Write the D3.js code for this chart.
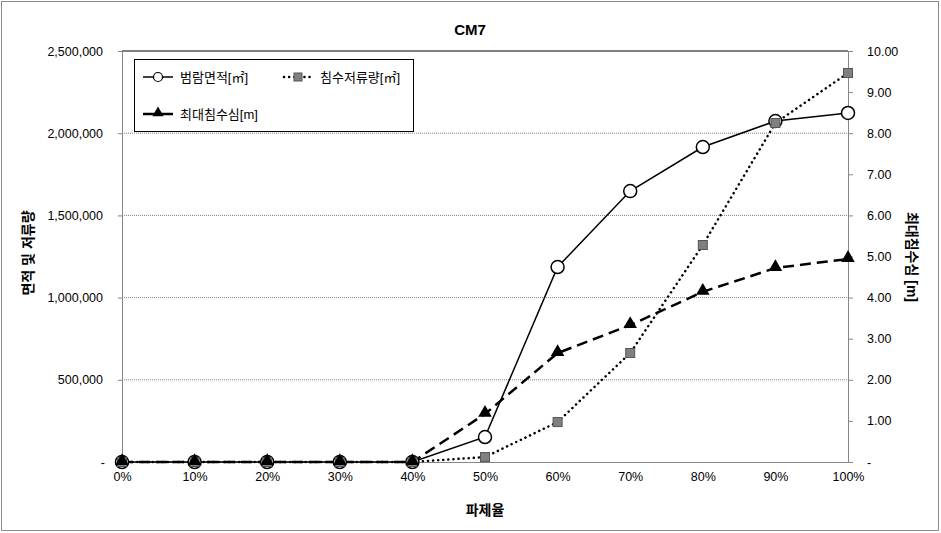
<!DOCTYPE html>
<html><head><meta charset="utf-8">
<script src="https://cdn.jsdelivr.net/npm/d3@7"></script>
<style>body{margin:0;background:#fff}svg{display:block}text{font-family:"Liberation Sans","Noto Sans CJK KR",Arial,sans-serif}</style>
</head><body><svg id="c" width="941" height="533"></svg>
<script>
const categories = ["0%","10%","20%","30%","40%","50%","60%","70%","80%","90%","100%"];
const floodArea = [0,0,0,0,0,152000,1186000,1648000,1916000,2074000,2123000];
const storage = [0,0,0,0,0,30000,243000,663000,1320000,2062000,2366000];
const maxDepth = [0,0,0,0,0,1.17,2.65,3.33,4.14,4.72,4.94];
const leftTicks = [0,500000,1000000,1500000,2000000,2500000];
const rightTicks = [0,1,2,3,4,5,6,7,8,9,10];
const seriesNames = ["범람면적[㎡]","침수저류량[㎡]","최대침수심[m]"];

const svg = d3.select("#c");
const L=122,R=848,T=51,B=462;
svg.append("rect").attr("x",1.5).attr("y",1.5).attr("width",937).attr("height",529).attr("fill","#fff").attr("stroke","#8c8c8c");

const x = d3.scalePoint().domain(categories).range([L,R]);
const yL = d3.scaleLinear().domain([0,2500000]).range([B,T]);
const yR = d3.scaleLinear().domain([0,10]).range([B,T]);

svg.append("g").selectAll("line").data(leftTicks.slice(1,-1)).join("line")
 .attr("x1",L).attr("x2",R).attr("y1",d=>yL(d)).attr("y2",d=>yL(d))
 .attr("stroke","#808080").attr("stroke-dasharray","1,1");
svg.append("line").attr("x1",L).attr("x2",R).attr("y1",T).attr("y2",T).attr("stroke","#000");

const fmt = d=> d===0?"-":d3.format(",")(d);
const gl = svg.append("g").attr("transform",`translate(${L},0)`)
 .call(d3.axisLeft(yL).tickValues(leftTicks).tickFormat(fmt).tickSize(4).tickPadding(15));
const gr = svg.append("g").attr("transform",`translate(${R},0)`)
 .call(d3.axisRight(yR).tickValues(rightTicks).tickFormat(d=>d===0?"-":d3.format(".2f")(d)).tickSize(5).tickPadding(14));
const gx = svg.append("g").attr("transform",`translate(0,${B})`)
 .call(d3.axisBottom(x).tickSize(0).tickPadding(10));
[gl,gr,gx].forEach(g=>{
  g.selectAll(".domain").attr("stroke","#868686");
  g.selectAll(".tick line").attr("stroke","#868686");
  g.selectAll("text").attr("font-size",12.5).attr("fill","#000");
});
gl.select(".tick text").attr("dx",2);

const line = (yS)=>d3.line().x((d,i)=>x(categories[i])).y(d=>yS(d));
svg.append("path").datum(storage).attr("d",line(yL)).attr("fill","none").attr("stroke","#000").attr("stroke-width",2.5).attr("stroke-dasharray","0.1,5").attr("stroke-linecap","round");
svg.append("path").datum(maxDepth).attr("d",line(yR)).attr("fill","none").attr("stroke","#000").attr("stroke-width",2.5).attr("stroke-dasharray","11,6");
svg.append("path").datum(floodArea).attr("d",line(yL)).attr("fill","none").attr("stroke","#000").attr("stroke-width",1.5);

svg.append("g").selectAll("circle").data(floodArea).join("circle")
 .attr("cx",(d,i)=>x(categories[i])).attr("cy",d=>yL(d)).attr("r",6.5).attr("fill","#fff").attr("stroke","#000").attr("stroke-width",1.5);
svg.append("g").selectAll("rect").data(storage).join("rect")
 .attr("x",(d,i)=>x(categories[i])-4.5).attr("y",d=>yL(d)-4.5).attr("width",9).attr("height",9).attr("fill","#808080").attr("stroke","#555");
const tri = d3.symbol().type(d3.symbolTriangle).size(80);
svg.append("g").selectAll("path").data(maxDepth).join("path")
 .attr("transform",(d,i)=>`translate(${x(categories[i])},${yR(d)-1})`).attr("d",tri).attr("fill","#000");

svg.append("text").attr("x",470).attr("y",35).attr("text-anchor","middle").attr("font-size",15).attr("font-weight","bold").text("CM7");
svg.append("text").attr("transform","translate(33,253) rotate(-90)").attr("text-anchor","middle").attr("font-size",14).attr("font-weight","bold").attr("font-family","Noto Sans CJK KR").text("면적 및 저류량");
svg.append("text").attr("transform","translate(907,257) rotate(90)").attr("text-anchor","middle").attr("font-size",14).attr("font-weight","bold").attr("font-family","Noto Sans CJK KR").text("최대침수심 [m]");
svg.append("text").attr("x",485).attr("y",515).attr("text-anchor","middle").attr("font-size",14).attr("font-weight","bold").attr("font-family","Noto Sans CJK KR").text("파제율");

const lg = svg.append("g");
lg.append("rect").attr("x",134.5).attr("y",59.5).attr("width",279).attr("height",72).attr("fill","#fff").attr("stroke","#000");
const items = [{x:143,y:77,tx:180,t:"c"},{x:284,y:77,tx:320,t:"s"},{x:143,y:114,tx:180,t:"t"}];
items.forEach((it,k)=>{
  const ln = lg.append("line").attr("x1",it.x).attr("x2",it.x+30).attr("y1",it.y).attr("y2",it.y).attr("stroke","#000");
  if(it.t==="c"){ln.attr("stroke-width",1.5);
    lg.append("circle").attr("cx",it.x+15).attr("cy",it.y).attr("r",4.5).attr("fill","#fff").attr("stroke","#000").attr("stroke-width",1.2);}
  if(it.t==="s"){ln.attr("stroke-width",2.5).attr("stroke-dasharray","0.1,5").attr("stroke-linecap","round");
    lg.append("rect").attr("x",it.x+10).attr("y",it.y-4).attr("width",8).attr("height",8).attr("fill","#808080").attr("stroke","#555");}
  if(it.t==="t"){ln.attr("stroke-width",2.5);
    lg.append("path").attr("transform",`translate(${it.x+15},${it.y-1})`).attr("d",d3.symbol().type(d3.symbolTriangle).size(55)).attr("fill","#000");}
  lg.append("text").attr("x",it.tx).attr("y",it.y+5).attr("font-size",13).attr("font-family","Noto Sans CJK KR").text(seriesNames[k]);
});
</script></body></html>
